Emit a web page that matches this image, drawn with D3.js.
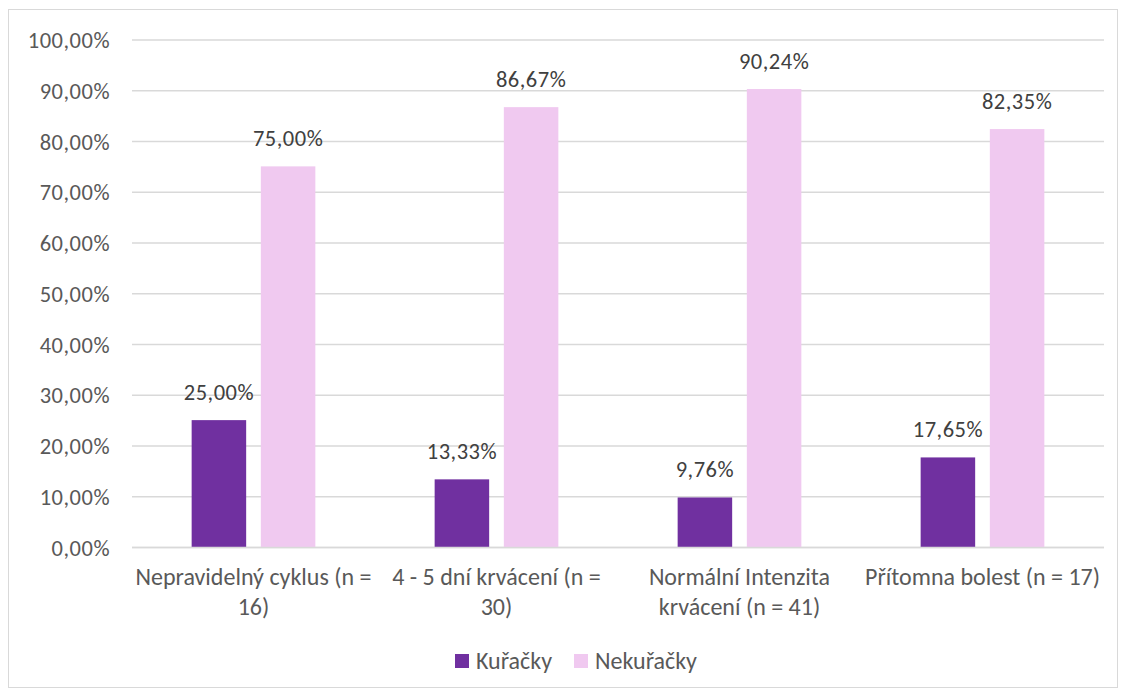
<!DOCTYPE html>
<html>
<head>
<meta charset="utf-8">
<script src="https://cdn.jsdelivr.net/npm/d3@7"></script>
<style>
  html, body { margin: 0; padding: 0; background: #fff; }
  svg text { font-family: Carlito, Calibri, Lato, "Open Sans", sans-serif; fill: #595959; }
</style>
</head>
<body>
<svg id="chart" width="1124" height="693"></svg>
<script>
// Share of smokers / non-smokers per symptom group
const categories = [
  "Nepravidelný cyklus (n = 16)",
  "4 - 5 dní krvácení (n = 30)",
  "Normální Intenzita krvácení (n = 41)",
  "Přítomna bolest (n = 17)"
];
const seriesNames = ["Kuřačky", "Nekuřačky"];
const kuracky = [25.00, 13.33, 9.76, 17.65];
const nekuracky = [75.00, 86.67, 90.24, 82.35];
const yTicks = [0, 10, 20, 30, 40, 50, 60, 70, 80, 90, 100];
const colors = ["#7030A0", "#F0C9F0"];

const seriesValues = [kuracky, nekuracky];
const rows = categories.map((c, i) => ({
  category: c,
  values: seriesNames.map((s, j) => ({ series: s, value: seriesValues[j][i] }))
}));

const fmt = v => v.toFixed(2).replace(".", ",") + "%";
const numSize = 22.5;
const numSpacing = "0.5px";
const textSize = 24;
const wrapWidth = 238;

const svg = d3.select("#chart");
const plot = { left: 132, right: 1104, top: 39.5, bottom: 547 };

// outer chart border
svg.append("rect")
  .attr("x", 8.5).attr("y", 9.5)
  .attr("width", 1109).attr("height", 678)
  .attr("fill", "none").attr("stroke", "#d9d9d9").attr("stroke-width", 1);

const x = d3.scaleBand().domain(categories).range([plot.left, plot.right]);
const xs = d3.scaleBand().domain(seriesNames).range([0, x.bandwidth()])
  .paddingInner(0.212).paddingOuter(0.862);
const y = d3.scaleLinear().domain([0, 100]).range([plot.bottom, plot.top]);

// gridlines and y labels
const yAxis = d3.axisLeft(y).tickValues(yTicks).tickFormat(fmt)
  .tickSize(-(plot.right - plot.left)).tickPadding(22);
const gy = svg.append("g").attr("transform", `translate(${plot.left},0)`).call(yAxis);
gy.select(".domain").remove();
gy.selectAll(".tick line").attr("stroke", "#d9d9d9").attr("stroke-width", 1.3);
gy.selectAll(".tick text")
  .attr("font-size", numSize)
  .attr("letter-spacing", numSpacing)
  .attr("dy", "0.36em")
  .style("fill", "#595959");

// bars
const groups = svg.append("g").selectAll("g").data(rows).join("g")
  .attr("transform", d => `translate(${x(d.category)},0)`);

groups.selectAll("rect").data(d => d.values).join("rect")
  .attr("x", d => xs(d.series))
  .attr("y", d => y(d.value))
  .attr("width", xs.bandwidth())
  .attr("height", d => y(0) - y(d.value))
  .attr("fill", (d, i) => colors[i]);

// value labels
groups.selectAll("text.val").data(d => d.values).join("text")
  .attr("class", "val")
  .attr("x", d => xs(d.series) + xs.bandwidth() / 2)
  .attr("y", d => y(d.value) - 20)
  .attr("text-anchor", "middle")
  .attr("font-size", numSize)
  .attr("letter-spacing", numSpacing)
  .style("fill", "#404040")
  .text(d => fmt(d.value));

// x axis baseline
svg.append("line")
  .attr("x1", plot.left).attr("x2", plot.right)
  .attr("y1", plot.bottom + 0.5).attr("y2", plot.bottom + 0.5)
  .attr("stroke", "#d9d9d9").attr("stroke-width", 1.3);

// category labels, wrapped to fit under each group
const xl = svg.append("g");
categories.forEach(c => {
  const cx = x(c) + x.bandwidth() / 2;
  const t = xl.append("text")
    .attr("text-anchor", "middle")
    .attr("font-size", textSize)
    .attr("x", cx)
    .attr("y", 585);
  const words = c.split(" ");
  let line = [];
  let ts = t.append("tspan").attr("x", cx).attr("dy", 0);
  words.forEach(w => {
    line.push(w);
    ts.text(line.join(" "));
    if (ts.node().getComputedTextLength() > wrapWidth && line.length > 1) {
      line.pop();
      ts.text(line.join(" "));
      line = [w];
      ts = t.append("tspan").attr("x", cx).attr("dy", 30).text(w);
    }
  });
});

// legend
const legend = svg.append("g").attr("transform", "translate(455,654)");
const legendItems = [
  { name: seriesNames[0], color: colors[0], x: 0 },
  { name: seriesNames[1], color: colors[1], x: 119 }
];
legendItems.forEach(it => {
  legend.append("rect").attr("x", it.x).attr("y", 0)
    .attr("width", 14).attr("height", 14).attr("fill", it.color);
  legend.append("text").attr("x", it.x + 21).attr("y", 15)
    .attr("font-size", textSize).text(it.name);
});
</script>
</body>
</html>
